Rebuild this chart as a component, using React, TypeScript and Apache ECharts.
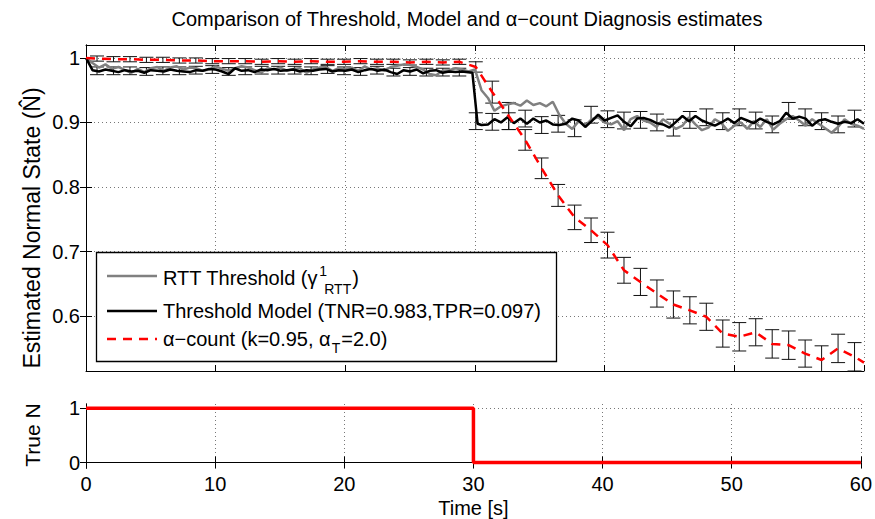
import React, { useEffect, useRef } from "react";
import * as echarts from "echarts";

// ---------- data ----------
const SAMPLE_TIMES: number[] = Array.from({ length: 121 }, (_, i) => i * 0.5);

const rttValues = [
  1.0, 0.992, 0.985, 0.99, 0.983, 0.986, 0.981, 0.977, 0.983, 0.978,
  0.984, 0.986, 0.98, 0.985, 0.987, 0.982, 0.985, 0.984, 0.98, 0.982,
  0.987, 0.983, 0.98, 0.984, 0.987, 0.985, 0.981, 0.977, 0.984, 0.982,
  0.985, 0.98, 0.983, 0.984, 0.977, 0.982, 0.985, 0.986, 0.98, 0.984,
  0.982, 0.985, 0.98, 0.987, 0.982, 0.984, 0.98, 0.986, 0.988, 0.99,
  0.989, 0.986, 0.982, 0.975, 0.973, 0.98, 0.981, 0.984, 0.982, 0.979,
  0.982, 0.95, 0.938, 0.918, 0.925, 0.928, 0.93, 0.926, 0.934, 0.927,
  0.93, 0.925, 0.932, 0.912, 0.898, 0.89, 0.902, 0.895, 0.905, 0.908,
  0.9, 0.897, 0.902, 0.888, 0.905, 0.91, 0.903, 0.9, 0.893, 0.905,
  0.898, 0.89, 0.895, 0.908, 0.897, 0.888, 0.892, 0.905, 0.899, 0.887,
  0.895, 0.9, 0.89, 0.902, 0.893, 0.905, 0.889, 0.898, 0.905, 0.91,
  0.903, 0.895, 0.905, 0.898, 0.891, 0.884, 0.893, 0.905, 0.898, 0.895,
  0.89,
];

const modelDropTimes = [29.8, 30.2];
const modelTimes: number[] = [
  ...SAMPLE_TIMES.filter((t) => t < 29.5),
  ...modelDropTimes,
  ...SAMPLE_TIMES.filter((t) => t >= 30.5),
];
const modelValues = [
  1.0, 0.981, 0.979, 0.982, 0.98, 0.978, 0.981, 0.979, 0.98, 0.977,
  0.981, 0.98, 0.979, 0.982, 0.98, 0.979, 0.978, 0.981, 0.98, 0.983,
  0.982, 0.979, 0.975, 0.984, 0.98, 0.981, 0.978, 0.982, 0.981, 0.983,
  0.98, 0.981, 0.982, 0.979, 0.981, 0.98, 0.982, 0.983, 0.979, 0.981,
  0.98, 0.982, 0.978, 0.981, 0.983, 0.98, 0.982, 0.978, 0.975, 0.981,
  0.979, 0.982, 0.976, 0.98, 0.981, 0.977, 0.979, 0.978, 0.979,
  0.977, 0.898,
  0.896, 0.897, 0.905, 0.9, 0.908, 0.899, 0.906, 0.898, 0.906, 0.9,
  0.903, 0.897, 0.896, 0.898, 0.906, 0.903, 0.893, 0.902, 0.912, 0.903,
  0.907, 0.911, 0.901, 0.894, 0.906, 0.907, 0.904, 0.899, 0.897, 0.892,
  0.901, 0.91, 0.902, 0.91, 0.903, 0.899, 0.895, 0.9, 0.906, 0.899,
  0.907, 0.903, 0.899, 0.906, 0.901, 0.897, 0.902, 0.915, 0.906, 0.909,
  0.906, 0.895, 0.903, 0.905, 0.901, 0.898, 0.901, 0.899, 0.905, 0.898,
];

const barTimes = [
  0.85, 2.12, 3.39, 4.66, 5.93, 7.2, 8.47, 9.74, 11.01, 12.28,
  13.55, 14.82, 16.09, 17.36, 18.63, 19.9, 21.17, 22.44, 23.71, 24.98,
  26.25, 27.52, 28.79, 30.06, 31.33, 32.6, 33.87, 35.14, 36.41, 37.68,
  38.95, 40.22, 41.49, 42.76, 44.03, 45.3, 46.57, 47.84, 49.11, 50.38,
  51.65, 52.92, 54.19, 55.46, 56.73, 58.0, 59.27,
];

const alphaAtBars = [
  0.999, 0.998, 0.998, 0.997, 0.997, 0.996, 0.996, 0.995, 0.995, 0.995,
  0.994, 0.995, 0.994, 0.995, 0.994, 0.994, 0.995, 0.994, 0.994, 0.993,
  0.994, 0.993, 0.994, 0.986, 0.947, 0.91, 0.873, 0.829, 0.787, 0.753,
  0.733, 0.71, 0.671, 0.653, 0.635, 0.618, 0.609, 0.599, 0.573, 0.568,
  0.575, 0.557, 0.555, 0.542, 0.532, 0.55, 0.537,
];
const alphaErr = [
  0.004, 0.004, 0.004, 0.004, 0.004, 0.004, 0.004, 0.004, 0.004, 0.004,
  0.004, 0.004, 0.004, 0.004, 0.004, 0.004, 0.004, 0.004, 0.004, 0.004,
  0.004, 0.004, 0.004, 0.008, 0.017, 0.021, 0.016, 0.016, 0.017, 0.019,
  0.019, 0.02, 0.02, 0.021, 0.021, 0.021, 0.021, 0.021, 0.021, 0.022,
  0.021, 0.022, 0.022, 0.021, 0.022, 0.022, 0.022,
];
const alphaStart = [0, 1.0];
const alphaEnd = [60, 0.528];

const modelBarCenters = [
  0.98, 0.98, 0.98, 0.979, 0.98, 0.98, 0.981, 0.982, 0.979, 0.98,
  0.981, 0.981, 0.981, 0.98, 0.982, 0.98, 0.979, 0.981, 0.978, 0.979,
  0.978, 0.978, 0.978, 0.902, 0.901, 0.902, 0.906, 0.896, 0.898, 0.891,
  0.912, 0.905, 0.903, 0.904, 0.9, 0.892, 0.904, 0.908, 0.902, 0.908,
  0.903, 0.897, 0.918, 0.908, 0.902, 0.897, 0.906,
];
const modelErr = [
  0.006, 0.006, 0.006, 0.006, 0.006, 0.006, 0.006, 0.006, 0.006, 0.006,
  0.006, 0.006, 0.006, 0.006, 0.006, 0.006, 0.006, 0.006, 0.006, 0.006,
  0.006, 0.006, 0.006, 0.013, 0.013, 0.013, 0.013, 0.013, 0.013, 0.013,
  0.013, 0.013, 0.013, 0.013, 0.013, 0.013, 0.013, 0.013, 0.013, 0.013,
  0.013, 0.013, 0.013, 0.013, 0.013, 0.013, 0.013,
];

const trueNTimes = [0, 30, 60];
const trueNValues = [1, 0, 0];

const xTicks = [0, 10, 20, 30, 40, 50, 60];
const topYTicks = [0.6, 0.7, 0.8, 0.9, 1];
const bottomYTicks = [0, 1];

const TITLE = "Comparison of Threshold, Model and \u03b1\u2212count Diagnosis estimates";

// ---------- layout / style ----------
const FONT = '"Liberation Sans", Arial, Helvetica, sans-serif';
const TOP_MIN = 0.515;
const TOP_MAX = 1.02;
const BOT_MIN = -0.1;
const BOT_MAX = 1.08;

function measure(text: string, size: number): number {
  const ctx = document.createElement("canvas").getContext("2d")!;
  ctx.font = `${size}px "Liberation Sans"`;
  return ctx.measureText(text).width;
}

function makeErrorRenderer(yMin: number) {
  return (params: any, api: any) => {
    const x = api.value(0);
    const c = api.value(1);
    const h = api.value(2);
    const lo = Math.max(c - h, yMin);
    const top = api.coord([x, c + h]);
    const bot = api.coord([x, lo]);
    const cw = 7;
    const style = { stroke: "#111", lineWidth: 1, fill: null };
    const children: any[] = [
      { type: "line", shape: { x1: top[0], y1: top[1], x2: bot[0], y2: bot[1] }, style },
      { type: "line", shape: { x1: top[0] - cw, y1: top[1], x2: top[0] + cw, y2: top[1] }, style },
    ];
    if (c - h >= yMin) {
      children.push({ type: "line", shape: { x1: bot[0] - cw, y1: bot[1], x2: bot[0] + cw, y2: bot[1] }, style });
    }
    return { type: "group", children };
  };
}

const gridLine = { show: true, lineStyle: { color: "#777", type: [1, 3] as any, width: 1 } };
const axisLineBlack = { show: true, lineStyle: { color: "#000", width: 1 } };
const tickInside = { show: true, inside: true, length: 6, lineStyle: { color: "#000" } };
const labelStyle = { color: "#000", fontSize: 20, fontFamily: FONT };

function fmt(v: number) {
  return String(parseFloat(Number(v).toFixed(3)));
}

export default function App() {
  const ref = useRef<HTMLDivElement>(null);
  useEffect(() => {
    const chart = echarts.init(ref.current!, null, { renderer: "svg" });

    const legFont = 20;
    const subFont = 14;
    const textX = 163;
    const l1a = "RTT Threshold (\u03b3";
    const w1 = measure(l1a, legFont);
    const wSub = measure("RTT", subFont);
    const l3a = "\u03b1\u2212count (k=0.95, \u03b1";
    const w3 = measure(l3a, legFont);
    const wT = measure("T", subFont);

    const txt = (text: string, x: number, y: number, size: number, extra: any = {}) => ({
      type: "text",
      x,
      y,
      z: 101,
      style: {
        text,
        fill: "#000",
        fontSize: size,
        fontFamily: FONT,
        textAlign: "left",
        textVerticalAlign: "middle",
        align: "left",
        verticalAlign: "middle",
        ...extra,
      },
    });

    const graphic: any[] = [
      {
        type: "text",
        x: 467,
        y: 19,
        style: {
          text: TITLE,
          fill: "#000",
          fontSize: 20,
          fontFamily: FONT,
          textAlign: "center",
          align: "center",
          textVerticalAlign: "middle",
          verticalAlign: "middle",
        },
      },
      {
        type: "text",
        x: 32,
        y: 228,
        rotation: Math.PI / 2,
        style: {
          text: "Estimated Normal State (N\u0302)",
          fill: "#000",
          fontSize: 23,
          fontFamily: FONT,
          textAlign: "center",
          align: "center",
          textVerticalAlign: "middle",
          verticalAlign: "middle",
        },
      },
      {
        type: "text",
        x: 32,
        y: 435,
        rotation: Math.PI / 2,
        style: {
          text: "True N",
          fill: "#000",
          fontSize: 21,
          fontFamily: FONT,
          textAlign: "center",
          align: "center",
          textVerticalAlign: "middle",
          verticalAlign: "middle",
        },
      },
      // legend box
      {
        type: "rect",
        z: 100,
        shape: { x: 96.5, y: 252.5, width: 460, height: 109 },
        style: { fill: "#fff", stroke: "#000", lineWidth: 1.3 },
      },
      {
        type: "line",
        z: 101,
        shape: { x1: 107, y1: 276, x2: 157, y2: 276 },
        style: { stroke: "#808080", lineWidth: 2.5 },
      },
      {
        type: "line",
        z: 101,
        shape: { x1: 107, y1: 311, x2: 157, y2: 311 },
        style: { stroke: "#000", lineWidth: 2.5 },
      },
      {
        type: "line",
        z: 101,
        shape: { x1: 107, y1: 339, x2: 157, y2: 339 },
        style: { stroke: "#ff0000", lineWidth: 2.5, lineDash: [9, 7] },
      },
      txt(l1a, textX, 278, legFont),
      txt("1", textX + w1 + 1, 271, subFont),
      txt("RTT", textX + w1 + 6, 289, subFont),
      txt(")", textX + w1 + 7 + wSub, 278, legFont),
      txt("Threshold Model (TNR=0.983,TPR=0.097)", textX, 311, legFont),
      txt(l3a, textX, 339, legFont),
      txt("T", textX + w3 + 1, 348, subFont),
      txt("=2.0)", textX + w3 + 2 + wT, 339, legFont),
    ];

    const option: any = {
      animation: false,
      backgroundColor: "#fff",
      textStyle: { fontFamily: FONT },
      graphic,
      grid: [
        { left: 86, right: 11, top: 45, height: 326, show: false },
        { left: 86, right: 11, top: 404, height: 64, show: false },
      ],
      xAxis: [
        {
          type: "value", gridIndex: 0, position: "bottom", min: 0, max: 60, interval: 10,
          axisLine: axisLineBlack, axisTick: tickInside, axisLabel: { show: false },
          splitLine: gridLine,
        },
        {
          type: "value", gridIndex: 0, position: "top", min: 0, max: 60, interval: 10,
          axisLine: axisLineBlack, axisTick: tickInside, axisLabel: { show: false },
          splitLine: { show: false },
        },
        {
          type: "value", gridIndex: 1, position: "bottom", min: 0, max: 60, interval: 10,
          axisLine: axisLineBlack, axisTick: tickInside,
          axisLabel: { ...labelStyle, margin: 6, customValues: xTicks, formatter: (v: number) => fmt(v) },
          splitLine: gridLine,
          name: "Time [s]", nameLocation: "middle", nameGap: 30,
          nameTextStyle: { color: "#000", fontSize: 20, fontFamily: FONT },
        },
        {
          type: "value", gridIndex: 1, position: "top", min: 0, max: 60, interval: 10,
          axisLine: axisLineBlack, axisTick: tickInside, axisLabel: { show: false },
          splitLine: { show: false },
        },
      ],
      yAxis: [
        {
          type: "value", gridIndex: 0, position: "left", min: TOP_MIN, max: TOP_MAX,
          axisLine: axisLineBlack,
          axisTick: { ...tickInside, customValues: topYTicks },
          axisLabel: { ...labelStyle, margin: 6, customValues: topYTicks, formatter: (v: number) => fmt(v) },
          splitLine: gridLine,
        },
        {
          type: "value", gridIndex: 0, position: "right", min: TOP_MIN, max: TOP_MAX,
          axisLine: axisLineBlack,
          axisTick: { ...tickInside, customValues: topYTicks },
          axisLabel: { show: false },
          splitLine: { show: false },
        },
        {
          type: "value", gridIndex: 1, position: "left", min: BOT_MIN, max: BOT_MAX,
          axisLine: axisLineBlack,
          axisTick: { ...tickInside, customValues: bottomYTicks },
          axisLabel: { ...labelStyle, margin: 6, customValues: bottomYTicks, formatter: (v: number) => fmt(v) },
          splitLine: gridLine,
        },
        {
          type: "value", gridIndex: 1, position: "right", min: BOT_MIN, max: BOT_MAX,
          axisLine: axisLineBlack,
          axisTick: { ...tickInside, customValues: bottomYTicks },
          axisLabel: { show: false },
          splitLine: { show: false },
        },
      ],
      series: [
        {
          type: "custom",
          name: "alpha error",
          xAxisIndex: 0,
          yAxisIndex: 0,
          z: 2,
          renderItem: makeErrorRenderer(TOP_MIN),
          data: barTimes.map((t, i) => [t, alphaAtBars[i], alphaErr[i]]),
        },
        {
          type: "custom",
          name: "model error",
          xAxisIndex: 0,
          yAxisIndex: 0,
          z: 2,
          renderItem: makeErrorRenderer(TOP_MIN),
          data: barTimes.map((t, i) => [t, modelBarCenters[i], modelErr[i]]),
        },
        {
          type: "line",
          name: "RTT Threshold",
          xAxisIndex: 0,
          yAxisIndex: 0,
          z: 3,
          showSymbol: false,
          symbol: "none",
          lineStyle: { color: "#808080", width: 2.5 },
          data: SAMPLE_TIMES.map((t, i) => [t, rttValues[i]]),
        },
        {
          type: "line",
          name: "Threshold Model",
          xAxisIndex: 0,
          yAxisIndex: 0,
          z: 4,
          showSymbol: false,
          symbol: "none",
          lineStyle: { color: "#000", width: 2.5 },
          data: modelTimes.map((t, i) => [t, modelValues[i]]),
        },
        {
          type: "line",
          name: "alpha-count",
          xAxisIndex: 0,
          yAxisIndex: 0,
          z: 5,
          showSymbol: false,
          symbol: "none",
          lineStyle: { color: "#ff0000", width: 2.5, type: [9, 7] },
          data: [alphaStart, ...barTimes.map((t, i) => [t, alphaAtBars[i]]), alphaEnd],
        },
        {
          type: "line",
          name: "True N",
          xAxisIndex: 2,
          yAxisIndex: 2,
          z: 5,
          step: "end",
          showSymbol: false,
          symbol: "none",
          lineStyle: { color: "#ff0000", width: 3.5 },
          data: trueNTimes.map((t, i) => [t, trueNValues[i]]),
        },
      ],
    };

    chart.setOption(option);
    return () => chart.dispose();
  }, []);

  return (
    <div
      ref={ref}
      style={{ position: "absolute", left: 0, top: 0, width: 875, height: 519 }}
    />
  );
}
